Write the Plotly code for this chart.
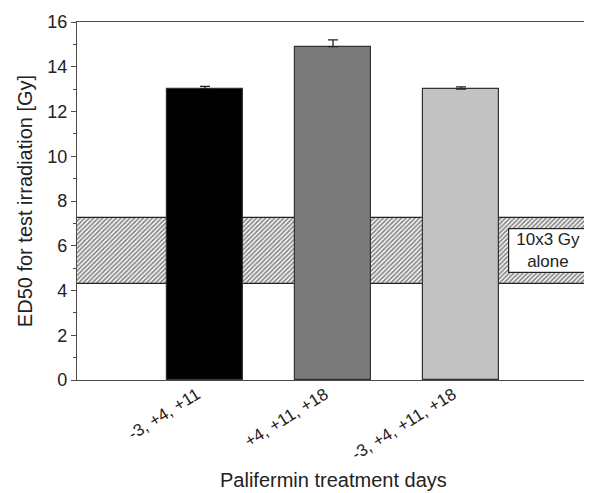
import plotly.graph_objects as go

categories = ["-3, +4, +11", "+4, +11, +18", "-3, +4, +11, +18"]
ed50_values = [13.02, 14.9, 13.0]
ed50_errors = [0.1, 0.3, 0.1]
bar_colors = ["#000000", "#7b7b7b", "#c2c2c2"]
band_low = 4.3
band_high = 7.25
band_label = "10x3 Gy<br>alone"
x_positions = [1, 2, 3]

FONT = "Liberation Sans, Arial, sans-serif"

fig = go.Figure()

# hatched reference band spanning full x range
fig.add_trace(go.Bar(
    x=[2], y=[band_high - band_low], base=[band_low], width=[4],
    marker=dict(color="white", line=dict(color="#222222", width=1.3),
                pattern=dict(shape="/", fgcolor="#111111", bgcolor="white",
                             size=3.2, solidity=0.55)),
    hoverinfo="skip", showlegend=False,
))

for xp, val, err, col in zip(x_positions, ed50_values, ed50_errors, bar_colors):
    fig.add_trace(go.Bar(
        x=[xp], y=[val], width=[0.6],
        marker=dict(color=col, line=dict(color="#333333", width=1.2)),
        error_y=dict(type="data", symmetric=False, array=[err], arrayminus=[0],
                     visible=True, color="#222222", thickness=1.3, width=5),
        showlegend=False,
    ))

fig.add_annotation(
    x=3.68, y=(band_low + band_high) / 2, xref="x", yref="y",
    text=band_label, showarrow=False, width=76, height=41,
    font=dict(family=FONT, size=17, color="#222222"),
    bgcolor="white", bordercolor="#222222", borderwidth=1.2, borderpad=1,
)

# x axis title placed below the rotated tick labels
fig.add_annotation(
    x=0.5, y=-0.279, xref="paper", yref="paper", yanchor="middle",
    text="Palifermin treatment days", showarrow=False,
    font=dict(family=FONT, size=20, color="#222222"),
)

fig.update_layout(
    width=584, height=485,
    margin=dict(l=69, r=3, t=14, b=113),
    barmode="overlay",
    plot_bgcolor="white", paper_bgcolor="white",
    font=dict(family=FONT, size=17, color="#222222"),
    bargap=0,
)

fig.update_xaxes(
    range=[0, 4], tickvals=x_positions, ticktext=categories,
    tickangle=-32, ticks="", showline=True, linecolor="#4a4a4a", linewidth=1.3,
    mirror=True, showgrid=False, zeroline=False,
    ticklabelshift=-8, ticklabelstandoff=-3,
    tickfont=dict(family=FONT, size=17, color="#222222"),
)
fig.update_yaxes(
    range=[0, 16], dtick=2, ticks="outside", ticklen=5, tickcolor="#4a4a4a",
    minor=dict(dtick=1, ticks="outside", ticklen=3, tickcolor="#4a4a4a"),
    showline=True, linecolor="#4a4a4a", linewidth=1.3, mirror=True,
    showgrid=False, zeroline=False,
    tickfont=dict(family=FONT, size=18, color="#222222"),
    title=dict(text="ED50 for test irradiation [Gy]", standoff=9,
               font=dict(family=FONT, size=20, color="#222222")),
)

fig.write_html("out.html")
